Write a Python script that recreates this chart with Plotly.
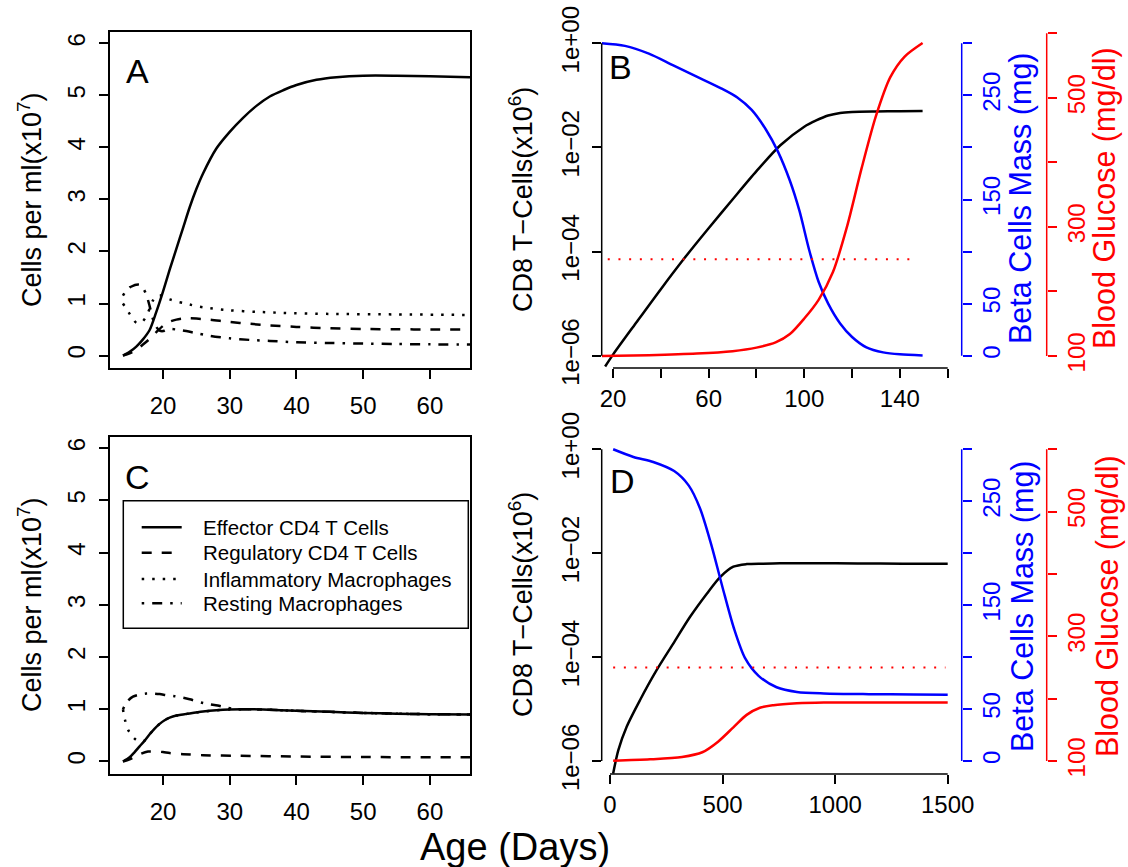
import math
import plotly.graph_objects as go

W, H = 1128, 867
FONT = "Liberation Sans, Arial, Helvetica, sans-serif"
BLUE, RED = "#0000FF", "#FF0000"

# ---------------- Panel A: cell densities (x10^7 per ml) ----------------
a_days_eff = [14, 15, 16, 17, 18, 19, 20, 21, 22, 23, 24, 25, 26, 28, 30, 32, 34, 36, 38, 40, 43, 46, 50, 55, 60, 66]
a_effector = [0.00, 0.07, 0.17, 0.31, 0.49, 0.84, 1.23, 1.65, 2.05, 2.45, 2.85, 3.20, 3.50, 3.98, 4.30, 4.57,
              4.80, 4.98, 5.10, 5.20, 5.30, 5.35, 5.38, 5.38, 5.37, 5.35]

a_days_reg = [14, 15, 16, 17, 18, 19, 20, 21, 22, 23, 24, 25, 27, 30, 33, 36, 40, 45, 50, 55, 60, 66]
a_regulatory = [0.0, 0.04, 0.11, 0.21, 0.32, 0.45, 0.57, 0.65, 0.69, 0.71, 0.715, 0.71, 0.69, 0.645, 0.61,
                0.58, 0.55, 0.525, 0.51, 0.505, 0.5, 0.5]

a_days_inf = [14, 14.5, 15, 15.5, 16, 16.5, 17, 17.5, 18, 18.5, 19, 19.5, 20, 21, 22, 23, 24, 25, 27, 30, 34,
              38, 45, 55, 66]
a_inflammatory = [1.0, 0.9, 0.8, 0.7, 0.63, 0.62, 0.66, 0.76, 0.9, 1.06, 1.14, 1.16, 1.14, 1.08, 1.04, 1.01,
                  0.98, 0.95, 0.91, 0.87, 0.84, 0.82, 0.80, 0.79, 0.78]

a_days_rest = [14, 14.5, 15, 15.5, 16, 16.5, 17, 17.5, 18, 18.5, 19, 19.5, 20, 20.5, 21, 22, 23, 25, 27, 30,
               33, 36, 40, 45, 50, 55, 60, 66]
a_resting = [1.15, 1.25, 1.31, 1.34, 1.36, 1.36, 1.3, 1.17, 0.95, 0.7, 0.55, 0.48, 0.47, 0.5, 0.51, 0.5, 0.48,
             0.43, 0.38, 0.33, 0.3, 0.28, 0.255, 0.24, 0.23, 0.22, 0.215, 0.21]

# ---------------- Panel C: cell densities, protected case ----------------
c_days_eff = [14, 15, 15.75, 16.5, 17.25, 18, 18.75, 19.5, 20.25, 21, 22, 23, 24, 26, 28, 30, 32, 35, 40, 45,
              50, 55, 60, 66]
c_effector = [0.0, 0.08, 0.18, 0.29, 0.40, 0.52, 0.63, 0.72, 0.79, 0.84, 0.88, 0.90, 0.92, 0.955, 0.98, 0.995,
              1.0, 0.995, 0.97, 0.95, 0.93, 0.915, 0.905, 0.90]

c_days_reg = [14, 15, 16, 16.75, 17.75, 19, 20, 21, 23, 26, 31, 40, 50, 66]
c_regulatory = [0.0, 0.04, 0.10, 0.15, 0.19, 0.19, 0.18, 0.16, 0.14, 0.12, 0.11, 0.095, 0.085, 0.08]

c_days_inf = [14, 14.3, 14.8, 15.3, 15.8, 16.5, 17.25, 18, 18.75, 19.5, 20.25, 21, 22, 23, 24, 26, 28, 30, 32,
              35, 40, 45, 50, 55, 60, 66]
c_inflammatory = [1.0, 0.8, 0.6, 0.5, 0.43, 0.38, 0.40, 0.52, 0.63, 0.72, 0.79, 0.84, 0.88, 0.90, 0.92, 0.955,
                  0.98, 0.995, 1.0, 0.995, 0.97, 0.95, 0.93, 0.915, 0.905, 0.90]

c_days_rest = [14, 14.4, 14.8, 15.5, 16.5, 17.5, 18.5, 19.5, 20.5, 21.75, 23, 24, 25, 26, 27, 28.2, 29.5, 31,
               32, 35, 40, 45, 50, 55, 60, 66]
c_resting = [1.0, 1.1, 1.17, 1.24, 1.28, 1.30, 1.30, 1.29, 1.27, 1.25, 1.22, 1.19, 1.155, 1.12, 1.095, 1.07,
             1.03, 1.0, 1.0, 0.995, 0.97, 0.95, 0.93, 0.915, 0.905, 0.90]

# ---------------- Panel B: CD8 T cells, beta-cell mass, glucose ----------------
b_days_cd8 = [16.7, 20, 30, 40, 50, 60, 70, 80, 90, 100, 105, 110, 115, 120, 130, 140, 149.5]
b_cd8 = [6.2e-7, 1.05e-6, 4.5e-6, 1.9e-5, 7.6e-5, 2.8e-4, 1.0e-3, 3.5e-3, 1.1e-2, 2.5e-2, 3.3e-2, 4.1e-2,
         4.6e-2, 4.8e-2, 4.9e-2, 4.95e-2, 5.0e-2]

b_days_beta = [15.3, 25, 35, 45, 55, 65, 72, 78, 84, 89, 94, 98, 102, 106, 110, 115, 120, 126, 133, 140, 149.5]
b_beta = [300, 297.5, 290, 279, 268, 257, 248, 236, 217, 196, 168, 139, 102, 71, 50, 31, 18, 8, 3.2, 1.3, 0.3]

b_days_glu = [15.3, 35, 55, 70, 80, 88, 94, 100, 106, 112, 118, 124, 130, 136, 142, 149.5]
b_glucose = [100, 101.3, 103.7, 107.5, 113, 121, 134, 158, 187, 230, 302, 391, 472, 532, 564, 585]

# ---------------- Panel D: CD8 T cells, beta-cell mass, glucose ----------------
d_days_cd8 = [14, 37, 74, 133, 207, 281, 355, 430, 489, 548, 607, 680, 755, 900, 1100, 1300, 1500]
d_cd8 = [5.75e-7, 1.62e-6, 4.57e-6, 1.48e-5, 5.6e-5, 1.82e-4, 5.9e-4, 1.66e-3, 3.47e-3, 5.5e-3, 6.17e-3,
         6.3e-3, 6.4e-3, 6.4e-3, 6.35e-3, 6.3e-3, 6.3e-3]

d_days_beta = [14, 104, 192, 285, 350, 400, 450, 500, 550, 600, 660, 740, 830, 950, 1150, 1350, 1500]
d_beta = [300, 292.6, 287.8, 279, 265, 243, 208, 167, 128, 99, 82, 71, 66.5, 65, 64.3, 64, 63.8]

d_days_glu = [14, 178, 320, 410, 480, 548, 607, 666, 726, 830, 950, 1150, 1500]
d_glucose = [100.5, 102.7, 106.5, 114, 131, 154, 174, 185.5, 189.5, 192.5, 193.8, 194, 194]

glucose_threshold = 250  # mg/dl

# ---------------- tick definitions ----------------
cells_ticks = [0, 1, 2, 3, 4, 5, 6]
age_ticks_ac = [20, 30, 40, 50, 60]
age_ticks_b = [20, 60, 100, 140]
age_minor_b = [40, 80, 120, 160]
age_ticks_d = [0, 500, 1000, 1500]
cd8_ticks = [1e-6, 1e-4, 1e-2, 1]
cd8_labels = ["1e\u221206", "1e\u221204", "1e\u221202", "1e+00"]
beta_ticks = [0, 50, 150, 250]
beta_minor = [100, 200, 300]
glu_ticks = [100, 300, 500]
glu_minor = [200, 400, 600]

series_style = {
    "Effector CD4 T Cells": "solid",
    "Regulatory CD4 T Cells": "10px,10px",
    "Inflammatory Macrophages": "2.5px,8px",
    "Resting Macrophages": "2.5px,8px,10px,8px",
}


def px(xp):
    return xp / W


def py(yp):
    return 1 - yp / H


# plot-region geometry (pixels)
LEFT_X = (110, 470)
RIGHT_X = (601.7, 952)
TOP_Y = (32, 368)
BOT_Y = (436.7, 774)
BLUE_AXIS_X = 961.7
RED_AXIS_X = 1046.7

dom_x_left = [px(LEFT_X[0]), px(LEFT_X[1])]
dom_x_right = [px(RIGHT_X[0]), px(RIGHT_X[1])]
dom_y_top = [py(TOP_Y[1]), py(TOP_Y[0])]
dom_y_bot = [py(BOT_Y[1]), py(BOT_Y[0])]

range_cells = [-0.24, 6.22]
range_age_ac = [12.06, 66.0]
range_age_b = [15.27, 161.8]
range_age_d = [-36.9, 1519.1]
range_log_b = [-6.236, 0.217]
range_log_d = [-6.25, 0.2425]
range_beta_b = [-11.81, 310.85]
range_beta_d = [-12.51, 312.1]
range_glu_b = [81.4, 602.0]
range_glu_d = [79.15, 620.2]

fig = go.Figure()


def line(x, y, xa, ya, color="black", dash="solid", width=2.5):
    fig.add_trace(go.Scatter(
        x=x, y=y, xaxis=xa, yaxis=ya, mode="lines", showlegend=False, hoverinfo="skip",
        line=dict(color=color, width=width, dash=dash, shape="spline", smoothing=0.8)))


# panel A
line(a_days_eff, a_effector, "x", "y", dash=series_style["Effector CD4 T Cells"])
line(a_days_reg, a_regulatory, "x", "y", dash=series_style["Regulatory CD4 T Cells"])
line(a_days_inf, a_inflammatory, "x", "y", dash=series_style["Inflammatory Macrophages"])
line(a_days_rest, a_resting, "x", "y", dash=series_style["Resting Macrophages"])

# panel C
line(c_days_eff, c_effector, "x3", "y5", dash=series_style["Effector CD4 T Cells"])
line(c_days_reg, c_regulatory, "x3", "y5", dash=series_style["Regulatory CD4 T Cells"])
line(c_days_inf, c_inflammatory, "x3", "y5", dash=series_style["Inflammatory Macrophages"])
line(c_days_rest, c_resting, "x3", "y5", dash=series_style["Resting Macrophages"])

# panel B
line(b_days_cd8, b_cd8, "x2", "y2")
line(b_days_beta, b_beta, "x2", "y3", color=BLUE)
line(b_days_glu, b_glucose, "x2", "y4", color=RED)
b_span = [min(b_days_glu) + 2.5, max(b_days_glu) - 2.3]
line(b_span, [glucose_threshold] * 2, "x2", "y4", color=RED, dash="2px,8.7px", width=2)

# panel D
line(d_days_cd8, d_cd8, "x4", "y6")
line(d_days_beta, d_beta, "x4", "y7", color=BLUE)
line(d_days_glu, d_glucose, "x4", "y8", color=RED)
d_span = [min(d_days_glu), max(d_days_glu) - 10]
line(d_span, [glucose_threshold] * 2, "x4", "y8", color=RED, dash="2px,8.7px", width=2)

tick_font = dict(family=FONT, size=24, color="black")
common = dict(ticks="outside", ticklen=9, tickwidth=1.5, tickcolor="black", showgrid=False, zeroline=False,
              tickfont=tick_font, automargin=False)
boxed = dict(showline=True, mirror=True, linecolor="black", linewidth=1.5)


def minor(vals, color="black"):
    return dict(tickmode="array", tickvals=vals, ticks="outside", ticklen=9, tickwidth=1.5,
                tickcolor=color, showgrid=False)


def side_axis(rng, base, pos, ticks, minor_ticks, color):
    return dict(range=rng, overlaying=base, side="right", anchor="free", position=px(pos),
                tickvals=ticks, tickangle=-90, showline=False, automargin=False,
                ticks="outside", ticklen=9, tickwidth=1.5, tickcolor=color, showgrid=False, zeroline=False,
                ticklabelstandoff=-1, minor=minor(minor_ticks, color),
                tickfont=dict(family=FONT, size=24, color=color))


layout = dict(
    template="none",
    width=W, height=H, margin=dict(l=0, r=0, t=0, b=0, pad=0), autosize=False,
    paper_bgcolor="white", plot_bgcolor="white", showlegend=False,
    font=dict(family=FONT, color="black"),
    # panel A
    xaxis=dict(domain=dom_x_left, range=range_age_ac, tickvals=age_ticks_ac, anchor="y",
               ticklabelstandoff=6, **common, **boxed),
    yaxis=dict(domain=dom_y_top, range=range_cells, tickvals=cells_ticks, tickangle=-90, anchor="x",
               ticklabelstandoff=5, **common, **boxed),
    # panel B
    xaxis2=dict(domain=dom_x_right, range=range_age_b, tickvals=age_ticks_b, minor=minor(age_minor_b),
                anchor="y2", showline=False, **common),
    yaxis2=dict(domain=dom_y_top, type="log", range=range_log_b, tickvals=cd8_ticks, ticktext=cd8_labels,
                tickangle=-90, anchor="x2", showline=False, ticklabelstandoff=3, **common),
    yaxis3=side_axis(range_beta_b, "y2", BLUE_AXIS_X, beta_ticks, beta_minor, BLUE),
    yaxis4=side_axis(range_glu_b, "y2", RED_AXIS_X, glu_ticks, glu_minor, RED),
    # panel C
    xaxis3=dict(domain=dom_x_left, range=range_age_ac, tickvals=age_ticks_ac, anchor="y5",
                ticklabelstandoff=6, **common, **boxed),
    yaxis5=dict(domain=dom_y_bot, range=range_cells, tickvals=cells_ticks, tickangle=-90, anchor="x3",
                ticklabelstandoff=5, **common, **boxed),
    # panel D
    xaxis4=dict(domain=dom_x_right, range=range_age_d, tickvals=age_ticks_d, anchor="y6", showline=False,
                **common),
    yaxis6=dict(domain=dom_y_bot, type="log", range=range_log_d, tickvals=cd8_ticks, ticktext=cd8_labels,
                tickangle=-90, anchor="x4", showline=False, ticklabelstandoff=3, **common),
    yaxis7=side_axis(range_beta_d, "y6", BLUE_AXIS_X, beta_ticks, beta_minor, BLUE),
    yaxis8=side_axis(range_glu_d, "y6", RED_AXIS_X, glu_ticks, glu_minor, RED),
)
fig.update_layout(**layout)


def log_frac(v, rng):
    return (math.log10(v) - rng[0]) / (rng[1] - rng[0])


shapes = []
# axis lines of the right-hand panels run from the first to the last tick
for xa, ya, rng, xt in (("x2", "y2", range_log_b, age_ticks_b + age_minor_b),
                        ("x4", "y6", range_log_d, age_ticks_d)):
    shapes.append(dict(type="line", xref=f"{xa} domain", yref=f"{ya} domain", x0=0, x1=0,
                       y0=log_frac(min(cd8_ticks), rng), y1=log_frac(max(cd8_ticks), rng),
                       line=dict(color="black", width=1.5)))
    shapes.append(dict(type="line", xref=xa, yref=f"{ya} domain", x0=min(xt), x1=max(xt), y0=0, y1=0,
                       line=dict(color="black", width=1.5)))
for yb, yg in (("y3", "y4"), ("y7", "y8")):
    shapes.append(dict(type="line", xref="paper", yref=yb, x0=px(BLUE_AXIS_X), x1=px(BLUE_AXIS_X),
                       y0=min(beta_ticks), y1=max(beta_minor), line=dict(color=BLUE, width=1.5)))
    shapes.append(dict(type="line", xref="paper", yref=yg, x0=px(RED_AXIS_X), x1=px(RED_AXIS_X),
                       y0=min(glu_ticks), y1=max(glu_minor), line=dict(color=RED, width=1.5)))

# legend of panel C
LEG_BOX = (123.3, 500.7, 468.3, 628.3)
shapes.append(dict(type="rect", xref="paper", yref="paper", x0=px(LEG_BOX[0]), x1=px(LEG_BOX[2]),
                   y0=py(LEG_BOX[3]), y1=py(LEG_BOX[1]), line=dict(color="black", width=1.5),
                   fillcolor="white", layer="above"))
annotations = []
leg_rows = [527.3, 552.7, 579.0, 603.3]
for (name, dash), yrow in zip(series_style.items(), leg_rows):
    shapes.append(dict(type="line", xref="paper", yref="paper", x0=px(141.7), x1=px(181.7),
                       y0=py(yrow), y1=py(yrow), line=dict(color="black", width=2.5, dash=dash)))
    annotations.append(dict(text=name, x=px(201), y=py(yrow), xref="paper", yref="paper", xanchor="left",
                            yanchor="middle", showarrow=False, font=dict(family=FONT, size=20.5, color="black")))


def label(text, xc, yc, size, color="black", angle=0):
    annotations.append(dict(text=text, x=px(xc), y=py(yc), xref="paper", yref="paper", xanchor="center",
                            yanchor="middle", showarrow=False, textangle=angle,
                            font=dict(family=FONT, size=size, color=color)))


label("Cells per ml(x10<sup>7</sup>)", 30, 200, 27, angle=-90)
label("Cells per ml(x10<sup>7</sup>)", 30, 605, 27, angle=-90)
label("CD8 T\u2212Cells(x10<sup>6</sup>)", 521, 200, 27, angle=-90)
label("CD8 T\u2212Cells(x10<sup>6</sup>)", 521, 605, 27, angle=-90)
label("Beta Cells Mass (mg)", 1021, 198, 30.5, BLUE, -90)
label("Beta Cells Mass (mg)", 1022, 606, 30.5, BLUE, -90)
label("Blood Glucose (mg/dl)", 1105, 198, 30.5, RED, -90)
label("Blood Glucose (mg/dl)", 1107, 606, 30.5, RED, -90)
label("Age (Days)", 515, 847, 38)
label("A", 137, 71, 34)
label("B", 620, 67, 34)
label("C", 137, 477, 34)
label("D", 622, 481, 34)

fig.update_layout(shapes=shapes, annotations=annotations)
fig.write_html("out.html")
